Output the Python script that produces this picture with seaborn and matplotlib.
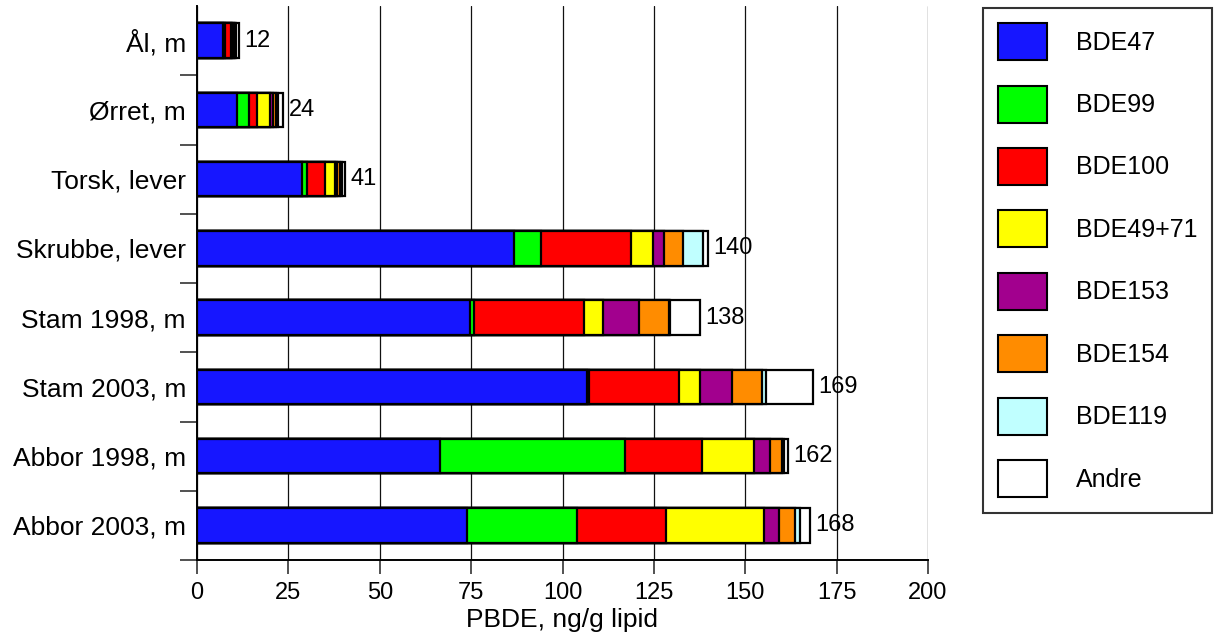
import numpy as np
import pandas as pd
import matplotlib
matplotlib.use("Agg")
import matplotlib.pyplot as plt
import seaborn as sns
from matplotlib.patches import Patch
from matplotlib.ticker import FixedLocator, MultipleLocator

# Samples (fish species / tissue) and PBDE congeners, ng/g lipid
samples = ["Ål, m", "Ørret, m", "Torsk, lever", "Skrubbe, lever",
           "Stam 1998, m", "Stam 2003, m", "Abbor 1998, m", "Abbor 2003, m"]
congeners = ["BDE47", "BDE99", "BDE100", "BDE49+71", "BDE153", "BDE154", "BDE119", "Andre"]

bde47 = [7.1, 11.0, 28.8, 86.6, 74.8, 106.7, 66.5, 73.8]
bde99 = [0.6, 3.2, 1.3, 7.6, 1.0, 0.6, 50.7, 30.1]
bde100 = [1.6, 2.3, 4.8, 24.5, 30.0, 24.6, 20.9, 24.3]
bde49_71 = [0.4, 3.6, 2.8, 6.0, 5.2, 5.8, 14.4, 26.8]
bde153 = [0.3, 0.6, 0.5, 3.1, 9.8, 8.6, 4.3, 4.1]
bde154 = [0.4, 0.9, 0.8, 5.3, 8.3, 8.3, 3.2, 4.6]
bde119 = [0.2, 0.6, 0.6, 5.3, 0.3, 1.2, 0.6, 1.4]
andre = [1.0, 1.4, 1.0, 1.4, 8.2, 12.8, 1.2, 2.7]

colors = ["#1616FF", "#00FF00", "#FF0000", "#FFFF00", "#A2008E", "#FF8C00", "#C0FFFF", "#FFFFFF"]

df = pd.DataFrame(
    {"sample": samples, "BDE47": bde47, "BDE99": bde99, "BDE100": bde100,
     "BDE49+71": bde49_71, "BDE153": bde153, "BDE154": bde154,
     "BDE119": bde119, "Andre": andre}
)
cum = df[congeners].cumsum(axis=1)
cum["sample"] = df["sample"]
totals = df[congeners].sum(axis=1)

sns.set_theme(style="white")
plt.rcParams["font.family"] = ["Liberation Sans", "DejaVu Sans"]
for key in ["text.color", "axes.labelcolor", "xtick.color", "ytick.color"]:
    plt.rcParams[key] = "black"

fig = plt.figure(figsize=(12.19, 6.39), dpi=100)
ax = fig.add_axes([197 / 1219, 1 - 560 / 639, (928 - 197) / 1219, (560 - 6) / 639])

# Stacked bars: draw cumulative totals from the outermost layer inwards
for name, col in reversed(list(zip(congeners, colors))):
    sns.barplot(data=cum, x=name, y="sample", order=samples, orient="h",
                color=col, saturation=1, edgecolor="black", linewidth=1.6,
                width=0.5, errorbar=None, ax=ax, zorder=3)

for i, t in enumerate(totals):
    ax.text(t + 1.4, i, f"{t:.0f}", va="center", ha="left", fontsize=17, color="black")

ax.set_xlim(0, 200)
ax.set_ylim(7.5, -0.5)
ax.xaxis.set_major_locator(MultipleLocator(25))
ax.xaxis.grid(True, color="#111111", linewidth=0.9, zorder=0)
ax.set_axisbelow(True)

ax.yaxis.set_minor_locator(FixedLocator(np.arange(0.5, 8, 1.0)))
ax.tick_params(axis="y", which="major", length=0, pad=8, labelsize=19)
ax.tick_params(axis="y", which="minor", left=True, length=12, width=1.2, color="#333333")
ax.tick_params(axis="x", which="major", bottom=True, length=10, width=1.2,
               color="#333333", labelsize=17, pad=6)

for side in ["top", "right"]:
    ax.spines[side].set_visible(False)
for side in ["left", "bottom"]:
    ax.spines[side].set_color("black")
    ax.spines[side].set_linewidth(1.4)

ax.set_xlabel("PBDE, ng/g lipid", fontsize=19, labelpad=3)
ax.set_ylabel("")

handles = [Patch(facecolor=c, edgecolor="black", linewidth=1.5, label=n)
           for n, c in zip(congeners, colors)]
leg = fig.legend(handles=handles, loc="upper left",
                 bbox_to_anchor=(983 / 1219, 1 - 8 / 639), bbox_transform=fig.transFigure,
                 borderaxespad=0, frameon=True, fancybox=False, edgecolor="black",
                 handlelength=1.95, handleheight=1.9, labelspacing=1.02,
                 handletextpad=1.15, borderpad=0.6, fontsize=18)
leg.get_frame().set_linewidth(1.5)

fig.savefig("out.png", dpi=100)
